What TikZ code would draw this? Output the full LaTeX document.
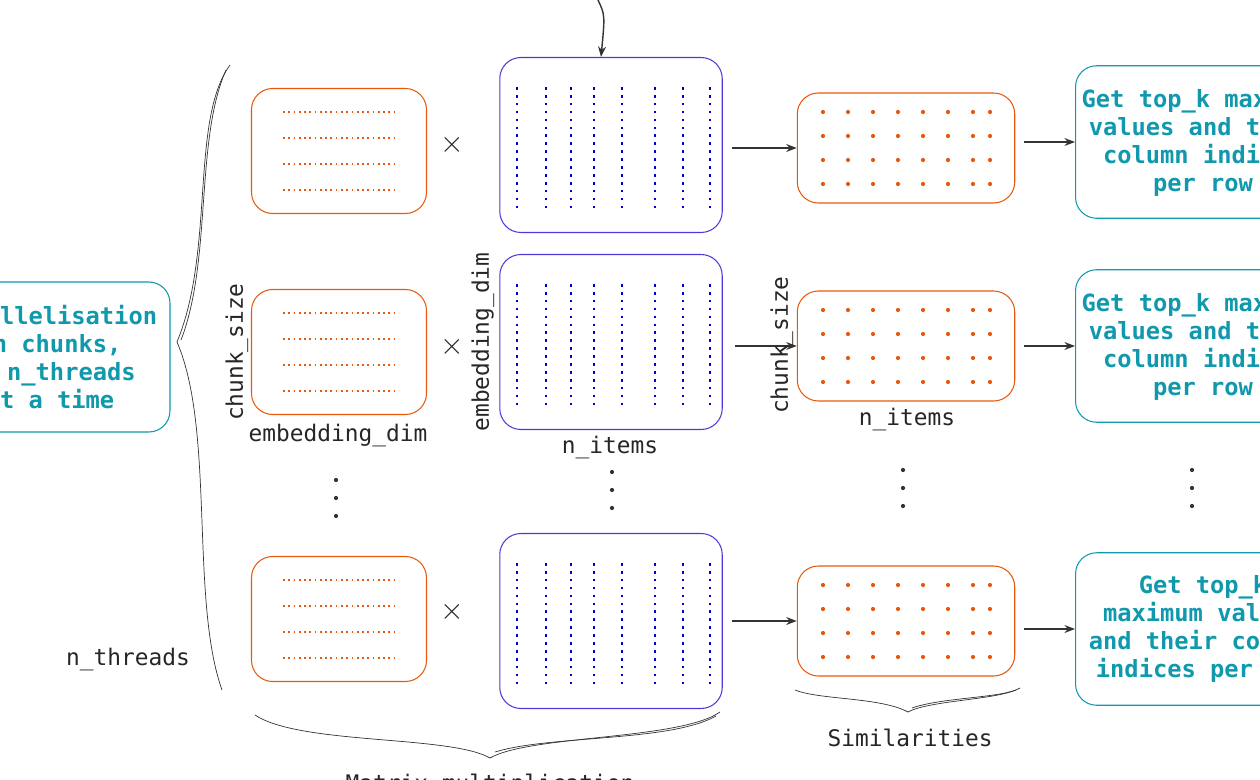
\documentclass[tikz,border=0pt]{standalone}
\usepackage{fontspec}
\setmonofont{DejaVu Sans Mono}
\usetikzlibrary{arrows.meta,positioning}
\definecolor{chunkor}{HTML}{E8590C}
\definecolor{itemblue}{HTML}{4C3BD9}
\definecolor{topcyan}{HTML}{1098AD}
\tikzset{
  chunk/.style={draw=chunkor, semithick, rounded corners=12pt, minimum width=3.5cm, minimum height=2.5cm},
  items/.style={draw=itemblue, semithick, rounded corners=12pt, minimum width=4.45cm, minimum height=3.5cm},
  simil/.style={draw=chunkor, semithick, rounded corners=12pt, minimum width=4.35cm, minimum height=2.2cm},
  topk/.style={draw=topcyan, semithick, rounded corners=12pt, minimum width=5.1cm, minimum height=3.05cm,
    align=center, text=topcyan, font=\ttfamily\bfseries\fontsize{13.5}{16}\selectfont},
  lbl/.style={font=\ttfamily\fontsize{13}{15}\selectfont, text=black!85},
  flow/.style={-{Stealth[length=6pt]}, black!80, thick},
  hdots/.style={chunkor, thick, dash pattern=on 1pt off 2pt},
  vdots/.style={blue!80!black, thick, dash pattern=on 1.5pt off 3pt}
}
\begin{document}
\begin{tikzpicture}[x=0.02cm, y=-0.02cm]
\useasboundingbox (0,0) rectangle (1260,780);
% left description
\node[topk, minimum width=4.8cm, minimum height=3cm] (par) at (50,357)
  {Parallelisation\\in chunks,\\of n\_threads\\at a time};
% chunk matrices
\node[chunk] (c1) at (339,151) {};
\node[chunk] (c2) at (339,352) {};
\node[chunk] (c3) at (339,619) {};
\foreach \yy in {151,352,619}
  \foreach \dy in {-39,-13,13,39}
    \draw[hdots] (283,\yy+\dy) -- (397,\yy+\dy);
% item matrices
\node[items] (m1) at (611,145) {};
\node[items] (m2) at (611,342) {};
\node[items] (m3) at (611,621) {};
\foreach \yy in {145,342,621}
  \foreach \xx in {517,546,571,594,622,655,683,710}
    \draw[vdots] (\xx,\yy-58) -- (\xx,\yy+64);
% similarity matrices
\node[simil] (s1) at (906,148) {};
\node[simil] (s2) at (906,346) {};
\node[simil] (s3) at (906,621) {};
\foreach \yy in {148,346,621}
  \foreach \dy in {-36,-12,12,36}
    \foreach \xx in {823,848,873,898,923,948,973,990}
      \fill[chunkor] (\xx,\yy+\dy) circle (1.2pt);
% top_k boxes
\node[topk] (t1) at (1203,142) {Get top\_k maximum\\values and their\\column indices\\per row};
\node[topk] (t2) at (1203,346) {Get top\_k maximum\\values and their\\column indices\\per row};
\node[topk] (t3) at (1203,629) {Get top\_k\\maximum values\\and their column\\indices per row};
% times signs
\foreach \yy in {145,347,612}
  \node[lbl, font=\fontsize{16}{16}\selectfont] at (452,\yy) {$\times$};
% arrows
\coordinate (in) at (598,0);
\draw[flow] (in) .. controls (605,15) .. (m1.north -| 601,0);
\draw[flow] ([xshift=5pt]m1.east |- s1.west) -- (s1.west);
\draw[flow] ([xshift=7pt]m2.east |- s2.west) -- (s2.west);
\draw[flow] ([xshift=5pt]m3.east |- s3.west) -- (s3.west);
\draw[flow] ([xshift=5pt]s1.east |- t1.west) -- (t1.west);
\draw[flow] ([xshift=5pt]s2.east |- t2.west) -- (t2.west);
\draw[flow] ([xshift=5pt]s3.east |- t3.west) -- (t3.west);
% dimension labels
\node[lbl, rotate=90] at (237,352) {chunk\_size};
\node[lbl] at (338,436) {embedding\_dim};
\node[lbl, rotate=90] at (483,342) {embedding\_dim};
\node[lbl] at (610,448) {n\_items};
\node[lbl, rotate=90] at (782,345) {chunk\_size};
\node[lbl] at (907,420) {n\_items};
\node[lbl] at (128,660) {n\_threads};
\node[lbl] at (910,738) {Similarities};
\node[lbl, anchor=north] at (490,768) {Matrix multiplication};
% vertical ellipses
\foreach \xx/\yy in {336/498,612/490,903/488,1192/488}
  \foreach \dy in {-18,0,18}
    \fill[black!80] (\xx,\yy+\dy) circle (1.2pt);
% braces
\draw[black!80] (230,65) .. controls (190,120) and (215,250) .. (177,342)
  .. controls (215,430) and (190,600) .. (222,690);
\draw[black!80] (226,70) .. controls (195,140) and (212,260) .. (181,340);
\draw[black!80] (255,715) .. controls (300,745) and (450,735) .. (490,758)
  .. controls (530,735) and (680,740) .. (720,712);
\draw[black!80] (495,752) .. controls (550,735) and (670,742) .. (716,716);
\draw[black!80] (795,690) .. controls (820,700) and (880,697) .. (908,712)
  .. controls (930,700) and (1000,700) .. (1020,688);
\draw[black!80] (912,708) .. controls (940,698) and (995,698) .. (1016,690);
\end{tikzpicture}
\end{document}
